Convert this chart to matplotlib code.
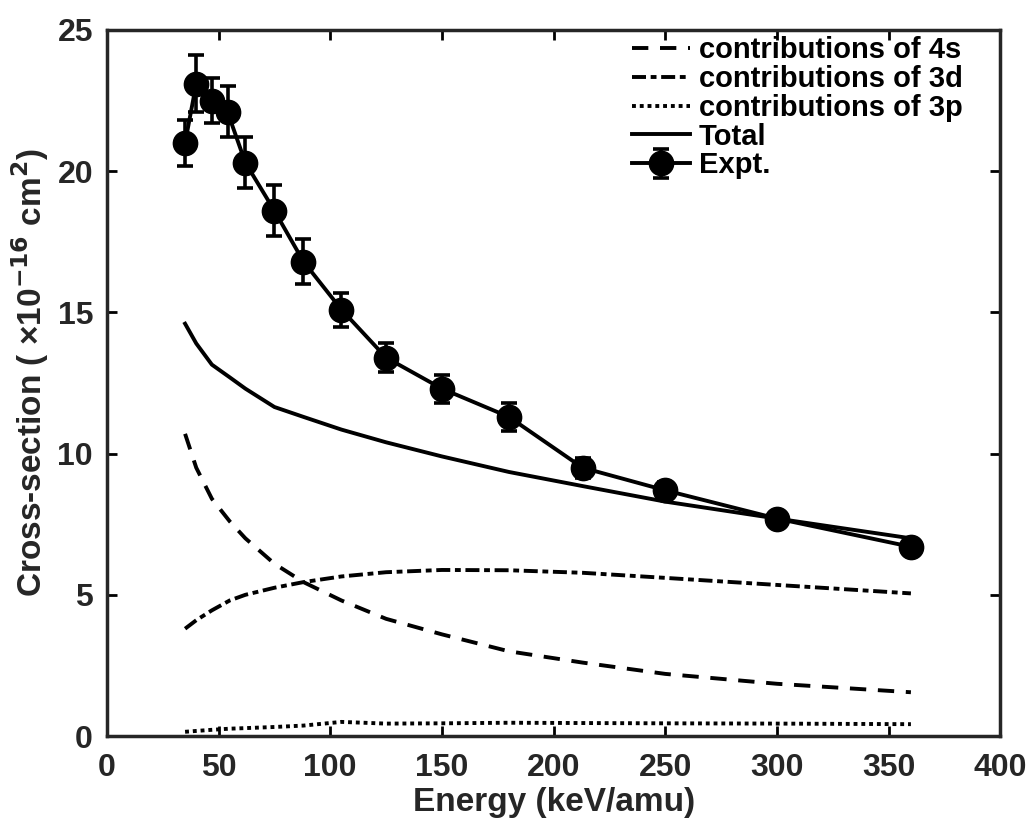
import matplotlib
matplotlib.use("Agg")
import matplotlib.pyplot as plt

plt.rcParams['font.family'] = ['Liberation Sans', 'DejaVu Sans']
plt.rcParams['font.weight'] = 'bold'
plt.rcParams['mathtext.default'] = 'bf'

# Projectile energies (keV/amu)
energy = [35, 40, 47, 55, 62, 75, 88, 105, 125, 150, 180, 213, 250, 300, 360]

# Calculated partial and total cross sections (1e-16 cm^2)
sigma_4s = [10.7, 9.5, 8.4, 7.6, 7.0, 6.1, 5.45, 4.8, 4.15, 3.6, 3.0, 2.6, 2.2, 1.85, 1.55]
sigma_3d = [3.8, 4.1, 4.45, 4.8, 5.0, 5.25, 5.45, 5.65, 5.8, 5.88, 5.87, 5.78, 5.6, 5.35, 5.05]
sigma_3p = [0.15, 0.18, 0.22, 0.26, 0.28, 0.32, 0.37, 0.5, 0.44, 0.45, 0.47, 0.46, 0.45, 0.44, 0.42]
sigma_total = [14.6, 13.9, 13.15, 12.7, 12.3, 11.65, 11.3, 10.85, 10.4, 9.9, 9.35, 8.85, 8.3, 7.7, 7.0]

# Measured cross sections with uncertainties
expt_energy = [35, 40, 47, 54, 62, 75, 88, 105, 125, 150, 180, 213, 250, 300, 360]
expt_sigma = [21.0, 23.1, 22.5, 22.1, 20.3, 18.6, 16.8, 15.1, 13.4, 12.3, 11.3, 9.5, 8.7, 7.7, 6.7]
expt_err = [0.8, 1.0, 0.8, 0.9, 0.9, 0.9, 0.8, 0.6, 0.5, 0.5, 0.5, 0.35, 0.3, 0.2, 0.2]

fig = plt.figure(figsize=(10.28, 8.21), dpi=100)
ax = fig.add_axes([0.104, 0.1035, 0.869, 0.86])

lw = 2.8
ax.plot(energy, sigma_4s, color='black', lw=lw, linestyle=(0, (4.2, 3)),
        dash_capstyle='butt', label='contributions of 4s')
ax.plot(energy, sigma_3d, color='black', lw=lw, linestyle=(0, (3.6, 1.2, 1.5, 1.2)),
        dash_capstyle='butt', label='contributions of 3d')
ax.plot(energy, sigma_3p, color='black', lw=lw, linestyle=(0, (1, 1)),
        dash_capstyle='butt', label='contributions of 3p')
ax.plot(energy, sigma_total, color='black', lw=lw, linestyle='-', label='Total')
ax.errorbar(expt_energy, expt_sigma, yerr=expt_err, color='black', lw=lw,
            marker='o', markersize=17.5, capsize=5.5, capthick=2.6, elinewidth=2.6,
            label='Expt.')

ax.set_xlim(0, 400)
ax.set_ylim(0, 25)
ax.set_xticks(range(0, 401, 50))
ax.set_yticks(range(0, 26, 5))
ax.tick_params(direction='in', length=7, width=2, labelsize=23,
               labelcolor='#262626', top=True, right=True)
ax.tick_params(axis='x', pad=12)
ax.tick_params(axis='y', pad=10)
for lab in ax.get_xticklabels() + ax.get_yticklabels():
    lab.set_fontweight('bold')
for sp in ax.spines.values():
    sp.set_linewidth(2.5)
    sp.set_color('#262626')

ax.set_xlabel('Energy (keV/amu)', fontsize=24, fontweight='bold', labelpad=3,
              color='#262626')
ax.set_ylabel(r'Cross-section ( $\mathregular{\times}$10$^{\mathbf{-16}}$ cm$^{\mathbf{2}}$)',
              fontsize=24, fontweight='bold', color='#262626')
ax.yaxis.set_label_coords(-0.063, 0.515)

ax.legend(loc='upper right', frameon=False, handlelength=2.0,
          handletextpad=0.3, labelspacing=0.03, borderaxespad=0.0,
          bbox_to_anchor=(0.971, 1.008),
          prop={'weight': 'bold', 'size': 21})

fig.savefig('out.png', dpi=100)
